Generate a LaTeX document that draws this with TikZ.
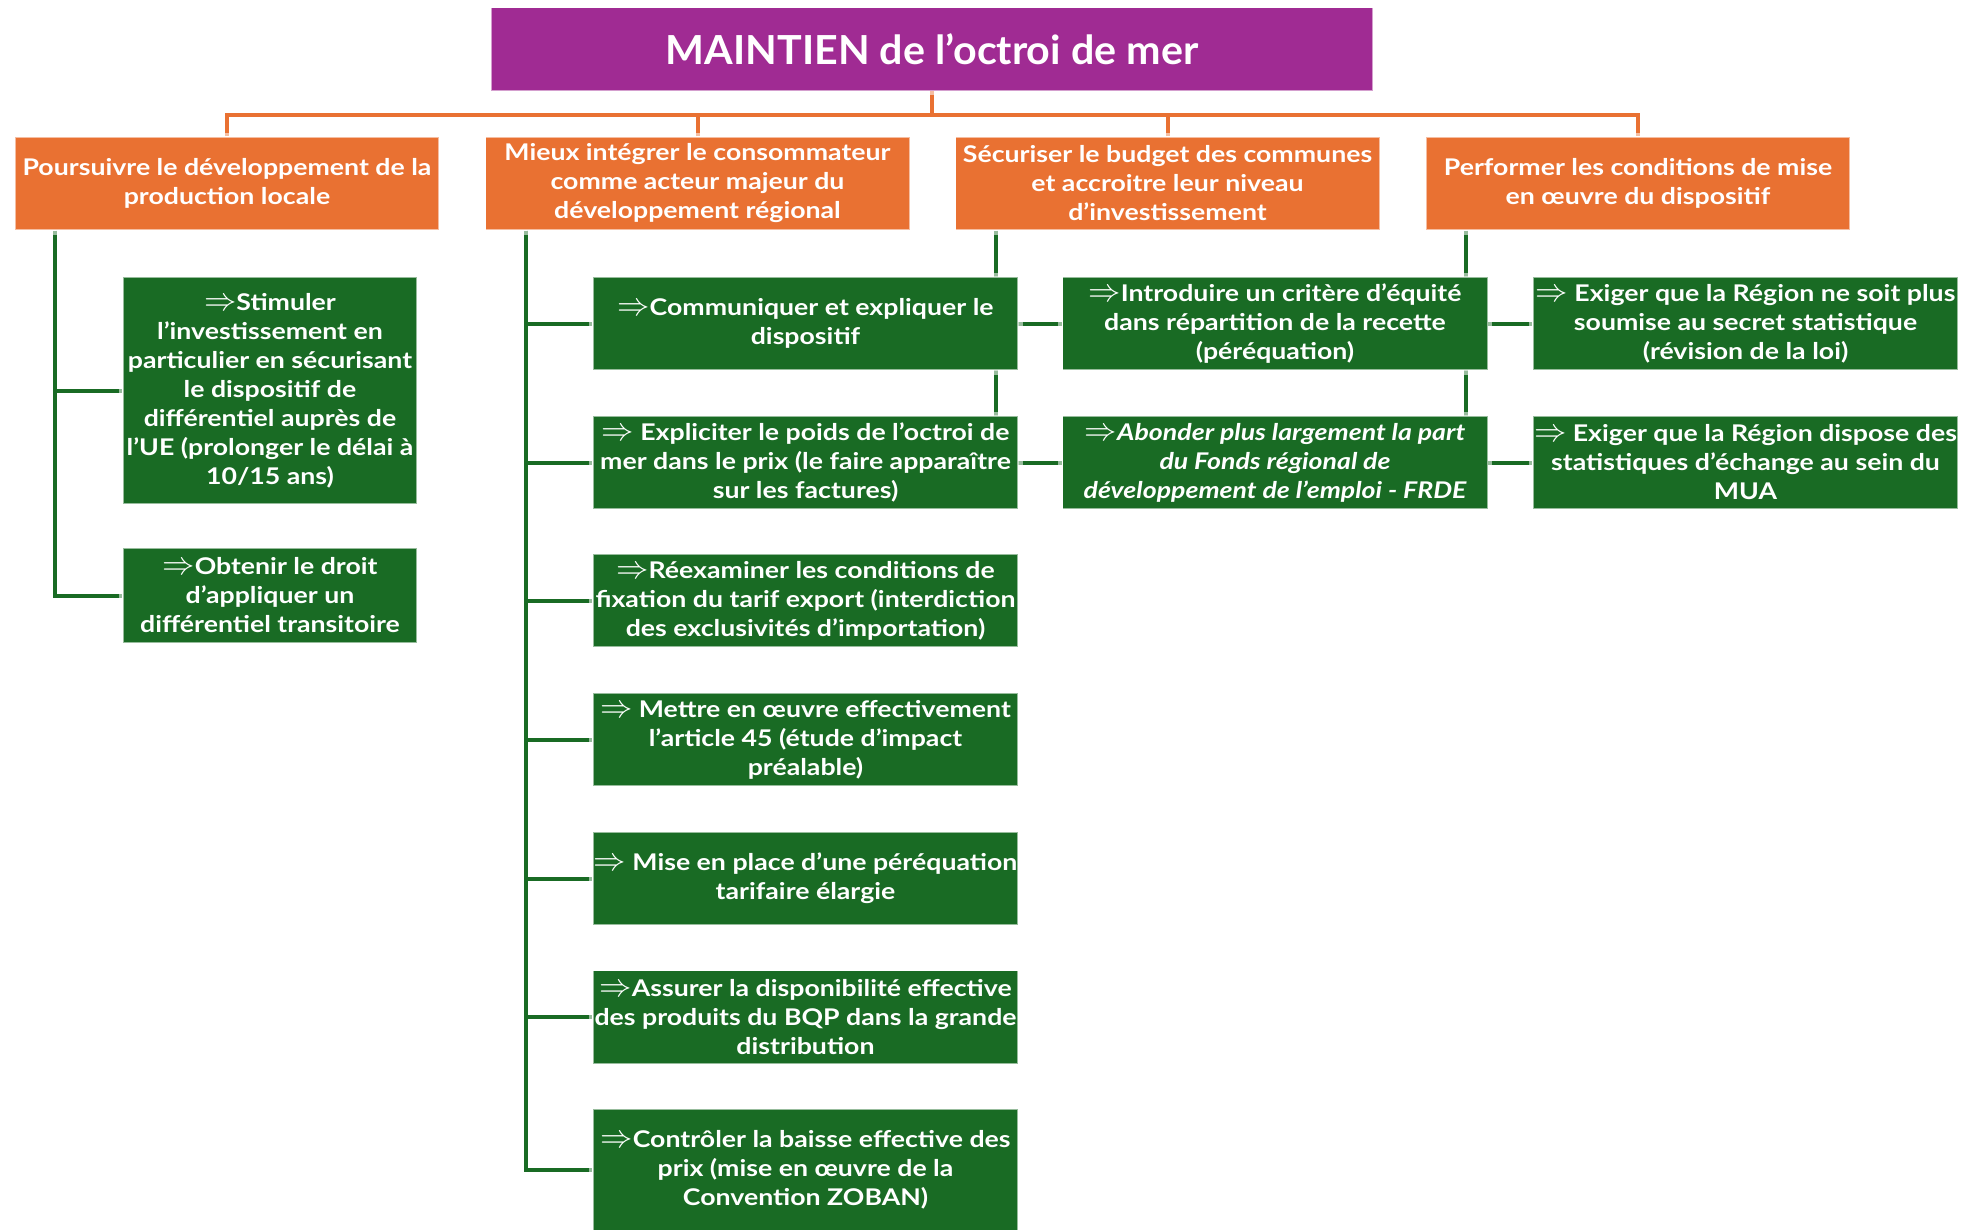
\documentclass[tikz,border=0pt]{standalone}
\usepackage{fontspec}
\setmainfont{Lato}[FakeStretch=1.16]
\newfontfamily\titlefont{Lato}[FakeStretch=1.03]
\usetikzlibrary{backgrounds}
\definecolor{purp}{HTML}{A02B93}
\definecolor{oran}{HTML}{E97132}
\definecolor{gree}{HTML}{196B24}
\newcommand\myarr{\scalebox{1.3}{$\Rightarrow$}}
\begin{document}
\begin{tikzpicture}[x=1pt,y=-1pt,
  halo/.style={preaction={draw=white,line width=9pt}},
  box/.style={halo, inner sep=0pt, align=center, text=white,
    font=\bfseries\fontsize{23}{29}\selectfont,
    draw=white, draw opacity=0.55, line width=1.2pt},
  titlebox/.style={box, fill=purp, minimum width=882, minimum height=83,
    font=\titlefont\bfseries\fontsize{40}{44}\selectfont},
  obox/.style={box, fill=oran, minimum width=424, minimum height=93},
  gbox/.style={box, fill=gree, minimum width=425, minimum height=93},
  sbox/.style={box, fill=gree, minimum width=294},
  itbox/.style={gbox, font=\bfseries\itshape\fontsize{23}{29}\selectfont},
  oline/.style={draw=oran, line width=4pt},
  gline/.style={draw=gree, line width=4pt},
]
\useasboundingbox (0,0) rectangle (1970,1229);

\node[titlebox] (title) at (932,49) {MAINTIEN de l’octroi de mer};

\node[obox] (o1) at (227,183.5) {Poursuivre le développement de la\\production locale};
\node[obox] (o2) at (697.5,183.5) {Mieux intégrer le consommateur\\comme acteur majeur du\\développement régional};
\node[obox] (o3) at (1167.5,183.5) {Sécuriser le budget des communes\\et accroitre leur niveau\\d’investissement};
\node[obox] (o4) at (1638,183.5) {Performer les conditions de mise\\en œuvre du dispositif};

\node[sbox, minimum height=227] (s1) at (270,390.5) {\myarr Stimuler\\l’investissement en\\particulier en sécurisant\\le dispositif de\\différentiel auprès de\\l’UE (prolonger le délai à\\10/15 ans)};
\node[sbox, minimum height=95] (s2) at (270,595.5) {\myarr Obtenir le droit\\d’appliquer un\\différentiel transitoire};

\node[gbox] (c1) at (805.5,323.5) {\myarr Communiquer et expliquer le\\dispositif};
\node[gbox] (c2) at (805.5,462.5) {\myarr{} Expliciter le poids de l’octroi de\\mer dans le prix (le faire apparaître\\sur les factures)};
\node[gbox] (c3) at (805.5,600.5) {\myarr Réexaminer les conditions de\\fixation du tarif export (interdiction\\des exclusivités d’importation)};
\node[gbox] (c4) at (805.5,739.5) {\myarr{} Mettre en œuvre effectivement\\l’article 45 (étude d’impact\\préalable)};
\node[gbox] (c5) at (805.5,878.5) {\myarr{} Mise en place d’une péréquation\\tarifaire élargie};
\node[gbox] (c6) at (805.5,1017) {\myarr Assurer la disponibilité effective\\des produits du BQP dans la grande\\distribution};
\node[gbox, minimum height=122] (c7) at (805.5,1170) {\myarr Contrôler la baisse effective des\\prix (mise en œuvre de la\\Convention ZOBAN)};

\node[gbox] (d1) at (1275,323.5) {\myarr Introduire un critère d’équité\\dans répartition de la recette\\(péréquation)};
\node[itbox] (d2) at (1275,462.5) {\myarr Abonder plus largement la part\\du Fonds régional de\\développement de l’emploi - FRDE};

\node[gbox] (e1) at (1745.5,323.5) {\myarr{} Exiger que la Région ne soit plus\\soumise au secret statistique\\(révision de la loi)};
\node[gbox] (e2) at (1745.5,462.5) {\myarr{} Exiger que la Région dispose des\\statistiques d’échange au sein du\\MUA};

\begin{pgfonlayer}{background}
  \coordinate (bus) at (932,115);
  \draw[oline] (title.south) -- (bus);
  \draw[oline] (o1.north) |- (bus) -| (o4.north);
  \draw[oline] (o2.north) -- (o2.north |- bus);
  \draw[oline] (o3.north) -- (o3.north |- bus);

  \foreach \t in {s1,s2}
    \draw[gline] ([xshift=41pt]o1.south west) |- (\t.west);
  \foreach \t in {c1,c2,c3,c4,c5,c6,c7}
    \draw[gline] ([xshift=41pt]o2.south west) |- (\t.west);
  \foreach \t in {d1,d2}
    \draw[gline] ([xshift=41pt]o3.south west) |- (\t.west);
  \foreach \t in {e1,e2}
    \draw[gline] ([xshift=41pt]o4.south west) |- (\t.west);
\end{pgfonlayer}
\end{tikzpicture}
\end{document}
